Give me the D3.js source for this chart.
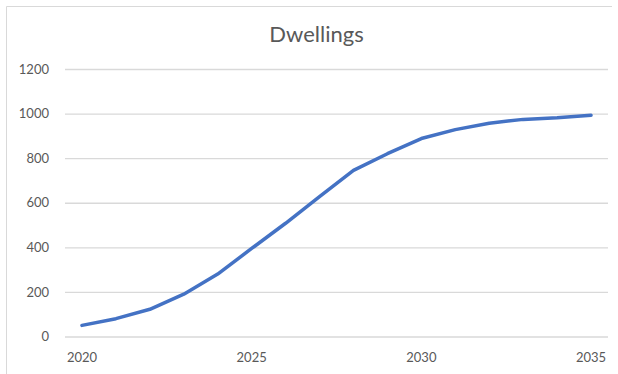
<!DOCTYPE html>
<html>
<head>
<meta charset="utf-8">
<script src="https://cdn.jsdelivr.net/npm/d3@7"></script>
<style>
  html, body { margin: 0; padding: 0; background: #ffffff; }
  svg text { font-family: Lato, "Open Sans", sans-serif; }
</style>
</head>
<body>
<svg id="chart" width="618" height="374"></svg>
<script>
// chart data
const years = [2020, 2021, 2022, 2023, 2024, 2025, 2026, 2027, 2028, 2029, 2030, 2031, 2032, 2033, 2034, 2035];
const dwellings = [50, 80, 122, 190, 280, 395, 508, 627, 745, 820, 888, 928, 957, 974, 981, 993];
const yTicks = [0, 200, 400, 600, 800, 1000, 1200];
const xTickLabels = [2020, 2025, 2030, 2035];

const width = 618, height = 374;
const plot = { left: 65, right: 608, top: 69, bottom: 336.5 };
const textColor = "#595959";
const gridColor = "#d9d9d9";
const lineColor = "#4472c4";

const svg = d3.select("#chart");

// chart area border (only top and left fall inside the picture)
svg.append("path")
  .attr("d", "M6.5,374 V6.5 H612")
  .attr("fill", "none")
  .attr("stroke", gridColor)
  .attr("stroke-width", 1);

const x = d3.scaleBand()
  .domain(years)
  .range([plot.left, plot.right]);

const y = d3.scaleLinear()
  .domain([0, 1200])
  .range([plot.bottom, plot.top]);

// horizontal gridlines + y labels
const yAxis = d3.axisLeft(y)
  .tickValues(yTicks)
  .tickFormat(d3.format("d"))
  .tickSize(-(plot.right - plot.left))
  .tickPadding(16);

const gy = svg.append("g")
  .attr("transform", "translate(" + plot.left + ",0)")
  .call(yAxis);
gy.select(".domain").remove();
gy.selectAll(".tick line")
  .attr("stroke", gridColor)
  .attr("stroke-width", 1.3);
gy.selectAll(".tick text")
  .attr("fill", textColor)
  .attr("font-size", 13);

// x labels
const xAxis = d3.axisBottom(x)
  .tickValues(xTickLabels)
  .tickFormat(d3.format("d"))
  .tickSize(0)
  .tickPadding(16);

const gx = svg.append("g")
  .attr("transform", "translate(0," + plot.bottom + ")")
  .call(xAxis);
gx.select(".domain").remove();
gx.selectAll(".tick text")
  .attr("fill", textColor)
  .attr("font-size", 13);

// the series line
const line = d3.line()
  .x(function(d, i) { return x(years[i]) + x.bandwidth() / 2; })
  .y(function(d) { return y(d); });

svg.append("path")
  .datum(dwellings)
  .attr("d", line)
  .attr("fill", "none")
  .attr("stroke", lineColor)
  .attr("stroke-width", 3.5)
  .attr("stroke-linecap", "round")
  .attr("stroke-linejoin", "round");

// title
svg.append("text")
  .attr("x", 316.5)
  .attr("y", 41.5)
  .attr("text-anchor", "middle")
  .attr("font-size", 22)
  .attr("fill", textColor)
  .text("Dwellings");
</script>
</body>
</html>
